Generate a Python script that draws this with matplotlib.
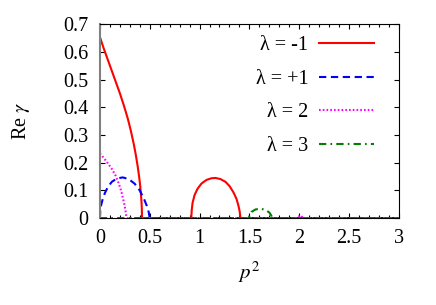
import matplotlib
matplotlib.use("Agg")
import matplotlib.pyplot as plt

plt.rcParams['font.family'] = ['Liberation Serif', 'DejaVu Serif']
plt.rcParams['mathtext.fontset'] = 'stix'

# values (p^2, Re gamma)
red_x = [0.0, 0.04, 0.08, 0.12, 0.16, 0.20, 0.24, 0.28, 0.31, 0.34, 0.36, 0.38, 0.395,
         0.405, 0.413, 0.418, 0.421, 0.423,
         0.917, 0.922, 0.93, 0.95, 0.98, 1.02, 1.07, 1.12, 1.16, 1.21, 1.26, 1.30, 1.34,
         1.37, 1.39, 1.402, 1.41, 3.0]
red_y = [0.655, 0.612, 0.572, 0.532, 0.492, 0.452, 0.408, 0.360, 0.317, 0.268, 0.230,
         0.186, 0.147, 0.115, 0.083, 0.057, 0.034, 0.0,
         0.0, 0.03, 0.055, 0.083, 0.106, 0.125, 0.138, 0.144, 0.145, 0.141, 0.131, 0.116,
         0.093, 0.070, 0.045, 0.025, 0.0, 0.0]

blue_x = [0.0, 0.005, 0.015, 0.03, 0.05, 0.08, 0.12, 0.17, 0.23, 0.29, 0.35, 0.40, 0.44,
          0.47, 0.49, 0.50, 3.0]
blue_y = [0.0, 0.03, 0.05, 0.07, 0.09, 0.112, 0.131, 0.143, 0.147, 0.141, 0.124, 0.100,
          0.072, 0.045, 0.022, 0.0, 0.0]

magenta_x = [0.0, 0.04, 0.08, 0.12, 0.16, 0.19, 0.215, 0.235, 0.25, 0.26, 0.268,
             1.98, 2.01, 2.04, 3.0]
magenta_y = [0.234, 0.217, 0.198, 0.178, 0.152, 0.125, 0.097, 0.067, 0.042, 0.02, 0.0,
             0.0, 0.01, 0.0, 0.0]

green_x = [0.0, 1.495, 1.50, 1.52, 1.56, 1.61, 1.66, 1.70, 1.72, 1.727, 3.0]
green_y = [0.0, 0.0, 0.01, 0.022, 0.031, 0.034, 0.03, 0.02, 0.009, 0.0, 0.0]

labels = ['λ = -1', 'λ = +1', 'λ = 2', 'λ = 3']

fig = plt.figure(figsize=(4.36, 3.05), dpi=100)
ax = fig.add_axes([0.229, 0.285, 0.686, 0.635])

ax.plot(red_x, red_y, '-', color='#ff0000', lw=1.5, label=labels[0])
ax.plot(blue_x, blue_y, '--', color='#0000ff', lw=1.5, dashes=(3.5, 2.2), label=labels[1])
ax.plot(magenta_x, magenta_y, ':', color='#ff00ff', lw=1.5, dashes=(0.8, 1.0), label=labels[2])
ax.plot(green_x, green_y, '-.', color='#007f00', lw=1.5, dashes=(3.5, 2, 0.8, 2), label=labels[3])

ax.set_xlim(0, 3)
ax.set_ylim(0, 0.7)
ax.set_xticks([0, 0.5, 1, 1.5, 2, 2.5, 3])
ax.set_xticklabels(['0', '0.5', '1', '1.5', '2', '2.5', '3'])
ax.set_xticks([i / 10 for i in range(31)], minor=True)
ax.set_yticks([i / 10 for i in range(8)])
ax.set_yticklabels(['0', '0.1', '0.2', '0.3', '0.4', '0.5', '0.6', '0.7'])
ax.tick_params(which='both', direction='in', top=True, right=True, width=0.8)
ax.tick_params(which='major', length=3.5, pad=8, labelsize=14.5)
ax.tick_params(which='minor', length=2.5)
ax.spines['left'].set_color('#808080')
ax.spines['left'].set_linewidth(1.5)
for s in ['top', 'right', 'bottom']:
    ax.spines[s].set_linewidth(0.8)

ax.set_xlabel(r'$p^2$', fontsize=15, labelpad=8)
ax.set_ylabel(r'Re $\gamma$', fontsize=14.5, labelpad=23)

leg = ax.legend(loc='upper right', bbox_to_anchor=(0.916, 0.94), frameon=False,
                markerfirst=False, handlelength=2.7, handletextpad=0.55,
                labelspacing=0.72, borderpad=0, borderaxespad=0, fontsize=14.5)
for col in leg._legend_handle_box.get_children():
    col.align = 'right'

fig.savefig('out.png', dpi=100)
